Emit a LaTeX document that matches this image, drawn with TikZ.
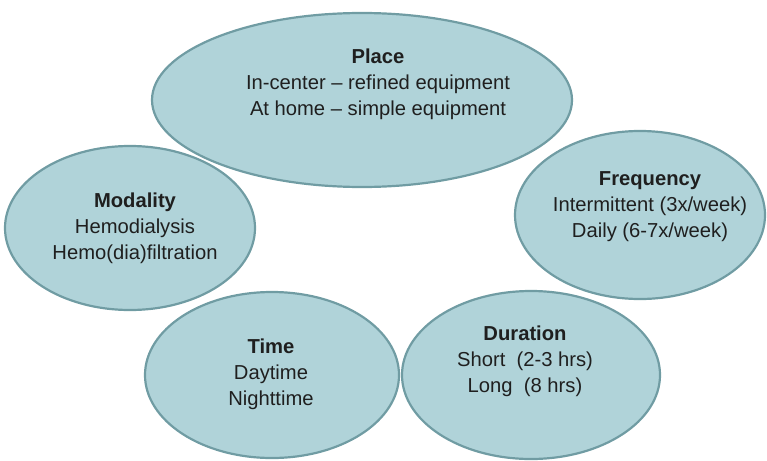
\documentclass[tikz,border=0pt]{standalone}
\usepackage{fontspec}
\setmainfont{Liberation Sans}
\usetikzlibrary{shapes.geometric}
\definecolor{ellfill}{RGB}{176,211,217}
\definecolor{ellline}{RGB}{112,156,163}
\begin{document}
\begin{tikzpicture}[x=1pt,y=-1pt,
  bubble/.style={ellipse, fill=ellfill, inner sep=0pt, outer sep=0pt},
  rim/.style={draw=ellline, line width=2.2pt},
  lbl/.style={align=center, inner sep=0pt, font=\fontsize{20.2}{26}\selectfont, text=black!88}]
\useasboundingbox (0,0) rectangle (767,460);
% fills
\node[bubble, minimum width=420, minimum height=174] (place) at (362,100) {};
\node[bubble, minimum width=250, minimum height=164] (modality) at (130,228) {};
\node[bubble, minimum width=250, minimum height=168] (frequency) at (640,215) {};
\node[bubble, minimum width=254, minimum height=166] (time) at (272,375) {};
\node[bubble, minimum width=258, minimum height=168] (duration) at (531,375) {};
% outlines
\draw[rim] (place.center) ellipse [x radius=210, y radius=87];
\draw[rim] (modality.center) ellipse [x radius=125, y radius=82];
\draw[rim] (frequency.center) ellipse [x radius=125, y radius=84];
\draw[rim] (time.center) ellipse [x radius=127, y radius=83];
\draw[rim] (duration.center) ellipse [x radius=129, y radius=84];
% texts
\node[lbl] (placetxt) at (378,84) {\textbf{Place}\\In-center -- refined equipment\\At home -- simple equipment};
\node[lbl] (modtxt) at (135,228) {\textbf{Modality}\\Hemodialysis\\Hemo(dia)filtration};
\node[lbl] (freqtxt) at (650,207) {\textbf{Frequency}\\Intermittent (3x/week)\\Daily (6-7x/week)};
\node[lbl] (timetxt) at (271,374) {\textbf{Time}\\Daytime\\Nighttime};
\node[lbl] (durtxt) at (525,361) {\textbf{Duration}\\Short\ \ (2-3 hrs)\\Long\ \ (8 hrs)};
\end{tikzpicture}
\end{document}
